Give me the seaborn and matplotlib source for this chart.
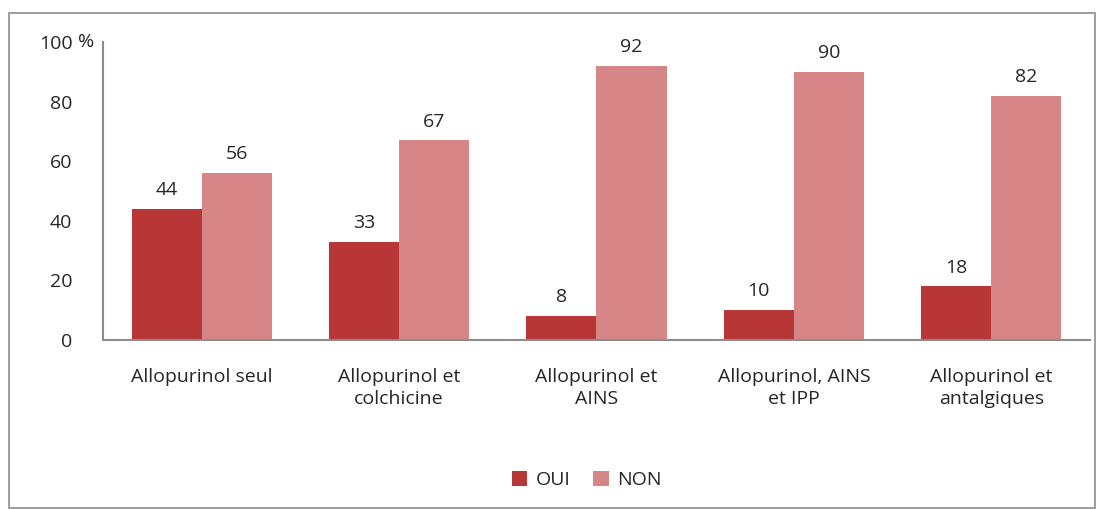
import pandas as pd
import matplotlib
matplotlib.use("Agg")
import matplotlib.pyplot as plt
import seaborn as sns
from matplotlib.patches import Rectangle

categories = ["Allopurinol seul", "Allopurinol et\ncolchicine", "Allopurinol et\nAINS",
              "Allopurinol, AINS\net IPP", "Allopurinol et\nantalgiques"]
oui = [44, 33, 8, 10, 18]
non = [56, 67, 92, 90, 82]
yticks = [0, 20, 40, 60, 80, 100]

df = pd.DataFrame({
    "cat": categories * 2,
    "val": oui + non,
    "grp": ["OUI"] * len(oui) + ["NON"] * len(non),
})

sns.set_style("white")
plt.rcParams["font.family"] = ["Open Sans", "DejaVu Sans"]
fs = 14

fig = plt.figure(figsize=(11.04, 5.09), dpi=100)
ax = fig.add_axes([0.0933, 0.332, 0.894, 0.5855])

sns.barplot(data=df, x="cat", y="val", hue="grp", width=0.71, saturation=1,
            palette={"OUI": "#B83636", "NON": "#D68686"},
            edgecolor="none", ax=ax)

for cont in ax.containers:
    ax.bar_label(cont, padding=7, fontsize=fs)

ax.set_ylim(0, 100)
ax.set_yticks(yticks)
ax.set_yticklabels([str(t) for t in yticks], fontsize=fs)
ax.tick_params(axis="y", length=0, pad=22)
ax.tick_params(axis="x", length=0, pad=20, labelsize=fs)
for lbl in ax.get_xticklabels():
    lbl.set_linespacing(1.3)
ax.set_xlabel("")
ax.set_ylabel("")
ax.set_xlim(-0.5, 4.5)
for s in ["top", "right"]:
    ax.spines[s].set_visible(False)
for s in ["left", "bottom"]:
    ax.spines[s].set_color("#8C8C8C")
    ax.spines[s].set_linewidth(1.5)

fig.text(0.071, 0.9175, "%", fontsize=fs, ha="left", va="center")

leg = ax.legend(loc="center", bbox_to_anchor=(0.49, -0.47), ncol=2, frameon=False,
                fontsize=fs, handlelength=0.8, handleheight=0.8, handletextpad=0.4,
                columnspacing=1.2)

fig.patches.append(Rectangle((9 / 1104, 0.002), 1086 / 1104, 1 - 13 / 509 - 0.002,
                             transform=fig.transFigure, fill=False,
                             edgecolor="#8C8C8C", linewidth=1.2))

fig.savefig("out.png", dpi=100)
